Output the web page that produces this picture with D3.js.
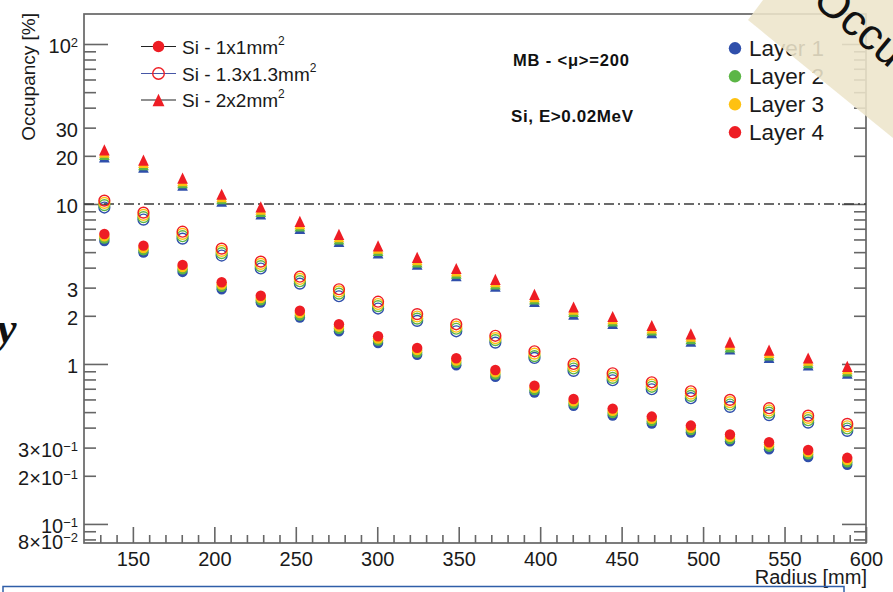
<!DOCTYPE html>
<html>
<head>
<meta charset="utf-8">
<script src="https://cdn.jsdelivr.net/npm/d3@7"></script>
<style>
  html, body { margin: 0; padding: 0; background: #fff; }
  svg { display: block; font-family: "Liberation Sans", Arial, sans-serif; }
</style>
</head>
<body>
<svg id="chart" width="893" height="592"></svg>
<script>
// Radial positions of the sensor rings [mm]
const radius = [132.5, 156.5, 180.5, 204.5, 228.5, 252.5, 276.5, 300.5, 324.5, 348.5,
                372.5, 396.5, 420.5, 444.5, 468.5, 492.5, 516.5, 540.5, 564.5, 588.5];

// Occupancy [%], Si pixels 1x1 mm^2, one array per layer
const px1_L1 = [5.87, 4.97, 3.76, 2.93, 2.42, 1.95, 1.60, 1.35, 1.14, 0.982, 0.830, 0.662, 0.547, 0.476, 0.424, 0.373, 0.328, 0.293, 0.262, 0.234];
const px1_L2 = [6.08, 5.14, 3.90, 3.04, 2.50, 2.01, 1.66, 1.40, 1.18, 1.017, 0.859, 0.686, 0.566, 0.493, 0.439, 0.386, 0.339, 0.304, 0.272, 0.243];
const px1_L3 = [6.28, 5.31, 4.03, 3.14, 2.58, 2.08, 1.71, 1.44, 1.22, 1.05, 0.888, 0.709, 0.585, 0.509, 0.454, 0.399, 0.350, 0.314, 0.281, 0.251];
const px1_L4 = [6.49, 5.49, 4.16, 3.24, 2.67, 2.15, 1.77, 1.49, 1.26, 1.085, 0.917, 0.732, 0.604, 0.526, 0.469, 0.412, 0.362, 0.324, 0.290, 0.259];

// Occupancy [%], Si pixels 1.3x1.3 mm^2
const px13_L1 = [9.50, 7.99, 6.07, 4.76, 3.95, 3.18, 2.65, 2.22, 1.86, 1.60, 1.36, 1.09, 0.905, 0.791, 0.695, 0.611, 0.539, 0.479, 0.430, 0.382];
const px13_L2 = [9.84, 8.27, 6.29, 4.93, 4.09, 3.29, 2.75, 2.30, 1.92, 1.66, 1.41, 1.12, 0.937, 0.819, 0.720, 0.632, 0.558, 0.496, 0.445, 0.395];
const px13_L3 = [10.16, 8.55, 6.50, 5.09, 4.22, 3.40, 2.84, 2.37, 1.98, 1.71, 1.45, 1.16, 0.968, 0.846, 0.743, 0.653, 0.577, 0.512, 0.460, 0.408];
const px13_L4 = [10.5, 8.83, 6.71, 5.26, 4.36, 3.51, 2.93, 2.45, 2.05, 1.77, 1.50, 1.20, 1.00, 0.874, 0.768, 0.675, 0.596, 0.529, 0.475, 0.422];

// Occupancy [%], Si pixels 2x2 mm^2
const px2_L1 = [19.7, 17.0, 13.1, 10.4, 8.67, 7.04, 5.84, 4.95, 4.20, 3.57, 3.06, 2.46, 2.05, 1.79, 1.57, 1.39, 1.24, 1.10, 0.986, 0.875];
const px2_L2 = [20.4, 17.6, 13.6, 10.8, 8.98, 7.29, 6.04, 5.13, 4.35, 3.70, 3.17, 2.55, 2.13, 1.86, 1.63, 1.44, 1.28, 1.14, 1.02, 0.906];
const px2_L3 = [21.1, 18.2, 14.0, 11.1, 9.27, 7.53, 6.24, 5.30, 4.49, 3.82, 3.27, 2.63, 2.20, 1.92, 1.68, 1.49, 1.33, 1.18, 1.055, 0.936];
const px2_L4 = [21.8, 18.8, 14.5, 11.5, 9.58, 7.78, 6.45, 5.47, 4.64, 3.95, 3.38, 2.72, 2.27, 1.98, 1.74, 1.54, 1.37, 1.22, 1.09, 0.967];

const layerNames = ["Layer 1", "Layer 2", "Layer 3", "Layer 4"];
const layerColors = ["#2f4fab", "#5cb646", "#fec111", "#ee1d24"];

const seriesNames = ["Si - 1x1mm", "Si - 1.3x1.3mm", "Si - 2x2mm"];
const seriesMarkers = ["filled", "open", "triangle"];
const seriesData = [
  [px1_L1, px1_L2, px1_L3, px1_L4],
  [px13_L1, px13_L2, px13_L3, px13_L4],
  [px2_L1, px2_L2, px2_L3, px2_L4]
];

// Axis ticks
const xMajorTicks = [150, 200, 250, 300, 350, 400, 450, 500, 550, 600];
const xMinorTicks = d3.range(130, 600, 10).filter(v => v % 50 !== 0);
const yLabelValues = [100, 30, 20, 10, 3, 2, 1, 0.3, 0.2, 0.1, 0.08];
const yLabelBase = ["10", "30", "20", "10", "3", "2", "1", "3\u00d710", "2\u00d710", "10", "8\u00d710"];
const yLabelExp = ["2", "", "", "", "", "", "", "\u22121", "\u22121", "\u22121", "\u22122"];
const yDecades = [0.1, 1, 10, 100];
const yMinorTicks = [0.08, 0.09, 0.2, 0.3, 0.4, 0.5, 0.6, 0.7, 0.8, 0.9,
                     2, 3, 4, 5, 6, 7, 8, 9, 20, 30, 40, 50, 60, 70, 80, 90];
const referenceLevel = 10;

const svg = d3.select("#chart");
const frame = { left: 84, right: 866, top: 14, bottom: 543 };

const x = d3.scaleLinear().domain([120, 600]).range([frame.left, frame.right]);
const y = d3.scaleLog().domain([0.076, 154]).range([frame.bottom, frame.top]);

const axisColor = "#666";
const labelColor = "#1a1a1a";

// Frame
svg.append("rect")
  .attr("x", frame.left).attr("y", frame.top)
  .attr("width", frame.right - frame.left).attr("height", frame.bottom - frame.top)
  .attr("fill", "none").attr("stroke", axisColor).attr("stroke-width", 1.7);

function styleAxis(g) {
  g.select(".domain").remove();
  g.selectAll(".tick line").attr("stroke", axisColor).attr("stroke-width", 1.6);
  g.selectAll(".tick text").attr("fill", labelColor).attr("font-size", 20)
    .attr("font-family", null);
}

// X axis: major ticks with labels, minor ticks without
svg.append("g").attr("transform", `translate(0,${frame.bottom})`)
  .call(d3.axisBottom(x).tickValues(xMajorTicks).tickSizeInner(-16).tickSizeOuter(0).tickPadding(9).tickFormat(d3.format("d")))
  .call(styleAxis);
svg.append("g").attr("transform", `translate(0,${frame.bottom})`)
  .call(d3.axisBottom(x).tickValues(xMinorTicks).tickSizeInner(-8).tickSizeOuter(0).tickFormat(""))
  .call(styleAxis);

// Y axis (left): decade ticks long, others short, labels with exponents
svg.append("g").attr("transform", `translate(${frame.left},0)`)
  .call(d3.axisLeft(y).tickValues(yDecades).tickSizeInner(-24).tickSizeOuter(0).tickFormat(""))
  .call(styleAxis);
svg.append("g").attr("transform", `translate(${frame.left},0)`)
  .call(d3.axisLeft(y).tickValues(yMinorTicks).tickSizeInner(-12).tickSizeOuter(0).tickFormat(""))
  .call(styleAxis);
const yLab = svg.append("g").attr("transform", `translate(${frame.left},0)`)
  .call(d3.axisLeft(y).tickValues(yLabelValues).tickSize(0).tickPadding(6).tickFormat(""))
  .call(styleAxis);
yLab.selectAll(".tick text").each(function (d) {
  const i = yLabelValues.indexOf(d);
  const t = d3.select(this).attr("dy", "0.45em").text(null);
  t.append("tspan").text(yLabelBase[i]);
  if (yLabelExp[i]) {
    t.append("tspan").attr("dy", "-0.5em").attr("font-size", 13).text(yLabelExp[i]);
  }
});

// Y axis (right): mirrored ticks
svg.append("g").attr("transform", `translate(${frame.right},0)`)
  .call(d3.axisRight(y).tickValues(yDecades).tickSizeInner(-24).tickSizeOuter(0).tickFormat(""))
  .call(styleAxis);
svg.append("g").attr("transform", `translate(${frame.right},0)`)
  .call(d3.axisRight(y).tickValues(yMinorTicks).tickSizeInner(-12).tickSizeOuter(0).tickFormat(""))
  .call(styleAxis);

// Axis titles
svg.append("text")
  .attr("transform", `translate(35,${frame.top - 1}) rotate(-90)`)
  .attr("text-anchor", "end").attr("font-size", 19).attr("fill", labelColor)
  .text("Occupancy [%]");
svg.append("text")
  .attr("x", frame.right + 1).attr("y", 584)
  .attr("text-anchor", "end").attr("font-size", 20).attr("fill", labelColor)
  .text("Radius [mm]");

// Reference level line
svg.append("line")
  .attr("x1", frame.left).attr("x2", frame.right)
  .attr("y1", y(referenceLevel)).attr("y2", y(referenceLevel))
  .attr("stroke", "#3a3a3a").attr("stroke-width", 1.3)
  .attr("stroke-dasharray", "10,4,2,4");

// Marker shapes
function trianglePath(w, h) {
  const p = d3.path();
  p.moveTo(0, -h / 2); p.lineTo(w / 2, h / 2); p.lineTo(-w / 2, h / 2); p.closePath();
  return p.toString();
}
function drawMarker(g, kind, color, size) {
  if (kind === "filled") {
    g.append("circle").attr("r", size).attr("fill", color);
  } else if (kind === "open") {
    g.append("circle").attr("r", size).attr("fill", "none").attr("stroke", color).attr("stroke-width", 1.4);
  } else {
    g.append("path").attr("d", trianglePath(size * 2.05, size * 2.15)).attr("fill", color);
  }
}

// Data markers: layer 1 drawn first, layer 4 on top
const plot = svg.append("g");
seriesData.forEach((layers, s) => {
  layers.forEach((vals, li) => {
    const grp = plot.append("g");
    vals.forEach((v, k) => {
      const m = grp.append("g").attr("transform", `translate(${x(radius[k])},${y(v)})`);
      drawMarker(m, seriesMarkers[s], layerColors[li], seriesMarkers[s] === "open" ? 5.4 : 5.2);
    });
  });
});

// Legend: pixel sizes
const legRows = [46.5, 73.5, 100];
const legLineColors = ["#222", "#4656a6", "#222"];
seriesNames.forEach((name, i) => {
  const g = svg.append("g").attr("transform", `translate(0,${legRows[i]})`);
  g.append("line").attr("x1", 141).attr("x2", 176).attr("y1", 0).attr("y2", 0)
    .attr("stroke", legLineColors[i]).attr("stroke-width", 1.2);
  const m = g.append("g").attr("transform", "translate(158.5,0)");
  drawMarker(m, seriesMarkers[i], layerColors[3], 5.8);
  const t = g.append("text").attr("x", 182).attr("y", 7).attr("font-size", 19).attr("fill", labelColor);
  t.append("tspan").text(name);
  t.append("tspan").attr("dy", -9).attr("font-size", 12).text("2");
});

// Sample annotations
svg.append("text").attr("x", 513).attr("y", 66).attr("font-size", 16.5).attr("font-weight", "bold")
  .attr("fill", "#111").attr("textLength", 116).attr("lengthAdjust", "spacing")
  .text("MB - <\u03bc>=200");
svg.append("text").attr("x", 511).attr("y", 122).attr("font-size", 17).attr("font-weight", "bold")
  .attr("fill", "#111").attr("textLength", 122).attr("lengthAdjust", "spacing")
  .text("Si, E>0.02MeV");

// Legend: layers
layerNames.forEach((name, i) => {
  const cy = 48.3 + i * 28;
  svg.append("circle").attr("cx", 735).attr("cy", cy).attr("r", 6.2).attr("fill", layerColors[i]);
  svg.append("text").attr("x", 749).attr("y", cy + 7.5).attr("font-size", 22.5).attr("fill", "#1a1a1a").text(name);
});

// Slide decorations around the figure
svg.append("polygon")
  .attr("points", "748,20 763,0 893,0 893,138")
  .attr("fill", "rgb(237,229,203)").attr("opacity", 0.88);
svg.append("text")
  .attr("transform", "translate(811,3) rotate(40)")
  .attr("font-size", 44).attr("fill", "#111").text("Occu");
svg.append("text")
  .attr("x", -3).attr("y", 343)
  .style("font-family", "'Liberation Serif', 'Times New Roman', serif")
  .style("font-style", "italic").style("font-weight", "bold")
  .attr("font-size", 44).attr("fill", "#111").text("y");
svg.append("rect")
  .attr("x", 3).attr("y", 586.5).attr("width", 841).attr("height", 20)
  .attr("fill", "none").attr("stroke", "#2f5ea8").attr("stroke-width", 1.5);
</script>
</body>
</html>
